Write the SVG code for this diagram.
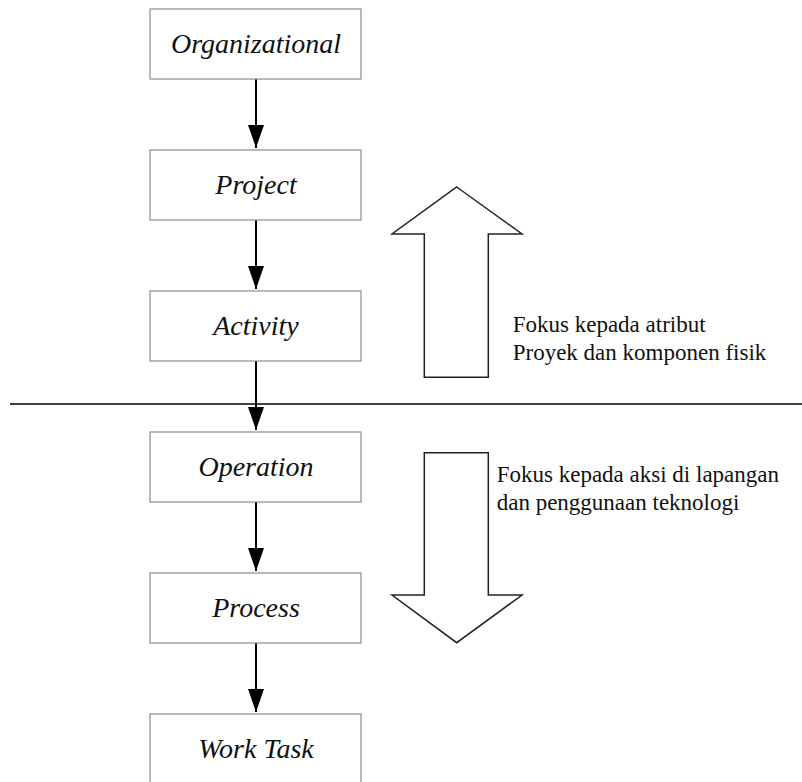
<svg xmlns="http://www.w3.org/2000/svg" width="802" height="782" viewBox="0 0 802 782">
<defs>
<marker id="ah" markerWidth="23" markerHeight="16" refX="23" refY="8" orient="auto" markerUnits="userSpaceOnUse" viewBox="0 0 23 16">
<path d="M0,0 L23,8 L0,16 Z" fill="#000"/>
</marker>
</defs>
<style>
.box{fill:#fff;stroke:#8c8c8c;stroke-width:1.2}
.lbl{font-family:'Liberation Serif','Times New Roman',Tinos,serif;font-style:italic;font-size:28px;fill:#111;text-anchor:middle}
.conn{stroke:#000;stroke-width:2;fill:none}
.big{fill:#fff;stroke:#222;stroke-width:1.5}
.note{font-family:'Liberation Serif','Times New Roman',Tinos,serif;font-size:23px;fill:#111}
</style>
<rect width="802" height="782" fill="#fff"/>
<g id="connectors">
<line class="conn" x1="256" y1="79" x2="256" y2="148" marker-end="url(#ah)"/>
<line class="conn" x1="256" y1="220" x2="256" y2="289" marker-end="url(#ah)"/>
<line class="conn" x1="256" y1="361" x2="256" y2="430" marker-end="url(#ah)"/>
<line class="conn" x1="256" y1="502" x2="256" y2="571" marker-end="url(#ah)"/>
<line class="conn" x1="256" y1="643" x2="256" y2="712" marker-end="url(#ah)"/>
</g>
<line id="divider" x1="10" y1="404" x2="802" y2="404" stroke="#000" stroke-width="1.3"/>
<g id="n-organizational"><rect class="box" x="150" y="9" width="211" height="70"/><text class="lbl" x="256" y="53">Organizational</text></g>
<g id="n-project"><rect class="box" x="150" y="150" width="211" height="70"/><text class="lbl" x="256" y="194">Project</text></g>
<g id="n-activity"><rect class="box" x="150" y="291" width="211" height="70"/><text class="lbl" x="256" y="335">Activity</text></g>
<g id="n-operation"><rect class="box" x="150" y="432" width="211" height="70"/><text class="lbl" x="256" y="476">Operation</text></g>
<g id="n-process"><rect class="box" x="150" y="573" width="211" height="70"/><text class="lbl" x="256" y="617">Process</text></g>
<g id="n-worktask"><rect class="box" x="150" y="714" width="211" height="80"/><text class="lbl" x="256" y="758">Work Task</text></g>
<g id="up-arrow"><polygon class="big" points="456.7,187 522,234 488.3,234 488.3,377.3 424.3,377.3 424.3,234 392,234"/></g>
<g id="down-arrow"><polygon class="big" points="424.3,452.7 488.3,452.7 488.3,595 522,595 456.7,642.7 392,595 424.3,595"/></g>
<g id="note-up"><text class="note" x="512.7" y="332">Fokus kepada atribut</text><text class="note" x="512.7" y="360">Proyek dan komponen fisik</text></g>
<g id="note-down"><text class="note" x="496.7" y="482">Fokus kepada aksi di lapangan</text><text class="note" x="496.7" y="510">dan penggunaan teknologi</text></g>
</svg>
